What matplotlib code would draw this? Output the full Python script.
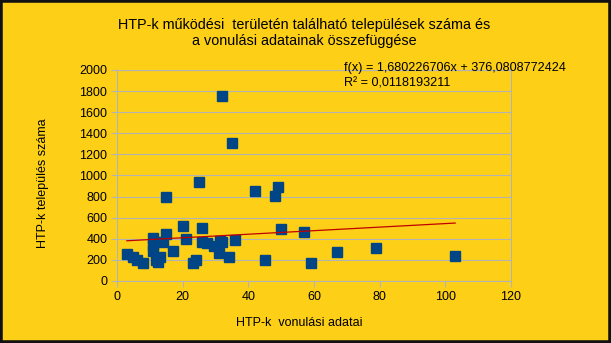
import matplotlib
matplotlib.use("Agg")
import matplotlib.pyplot as plt
import numpy as np
from matplotlib.patches import Rectangle

# HTP-k vonulási adatai (x) és a települések száma (y)
vonulas = [3, 5, 6, 8, 11, 11, 11, 12, 12.5, 13, 14, 15, 15, 17, 20, 21, 23, 24,
           25, 26, 26, 27.5, 29.5, 31, 31.5, 32, 32, 34, 35, 36, 42, 45, 48, 49,
           50, 57, 59, 67, 79, 103]
telepules = [260, 230, 200, 175, 410, 340, 280, 200, 180, 230, 370, 445, 800, 285,
             525, 400, 170, 200, 940, 500, 365, 360, 330, 265, 380, 1750, 370, 225,
             1310, 385, 855, 195, 810, 890, 490, 465, 170, 275, 315, 235]

slope = 1.680226706
intercept = 376.0808772424
r2 = 0.0118193211

x_ticks = [0, 20, 40, 60, 80, 100, 120]
y_ticks = [0, 200, 400, 600, 800, 1000, 1200, 1400, 1600, 1800, 2000]

BG = "#fdd017"
GRID = "#b3b3b3"

plt.rcParams["font.family"] = ["Liberation Sans", "DejaVu Sans"]

fig = plt.figure(figsize=(6.11, 3.43), dpi=100, facecolor=BG)
ax = fig.add_axes([0.1915, 0.1808, 0.6448, 0.6152])
ax.set_facecolor(BG)

ax.set_xlim(0, 120)
ax.set_ylim(0, 2000)
ax.set_xticks(x_ticks)
ax.set_yticks(y_ticks)
ax.tick_params(labelsize=9, colors=GRID, labelcolor="black", length=4, width=0.8, pad=3)
ax.grid(True, axis="y", color=GRID, linewidth=0.8, zorder=0)
for sp in ax.spines.values():
    sp.set_color(GRID)
    sp.set_linewidth(0.8)

ax.plot(vonulas, telepules, "s", color="#004586", markersize=7.8, zorder=3)

xs = np.array([min(vonulas), max(vonulas)])
ax.plot(xs, slope * xs + intercept, color="#c00000", linewidth=0.9, zorder=4)

eq = f"f(x) = {slope:.9f}x + {intercept:.10f}".replace(".", ",")
fig.text(344 / 611, 1 - 62 / 343, eq, fontsize=9.1, va="top", ha="left")
fig.text(344 / 611, 1 - 78 / 343, f"R² = {r2:.10f}".replace(".", ","), fontsize=9.1,
         va="top", ha="left")

fig.text(304 / 611, 1 - 18 / 343,
         "HTP-k működési  területén található települések száma és\n"
         "a vonulási adatainak összefüggése",
         fontsize=10.4, ha="center", va="top", linespacing=1.15)
fig.text(299 / 611, 1 - 323 / 343, "HTP-k  vonulási adatai", fontsize=9,
         ha="center", va="center")
fig.text(43 / 611, 1 - 183 / 343, "HTP-k település száma", fontsize=9,
         ha="center", va="center", rotation=90)

# keret
fig.patches.append(Rectangle((0, 0), 1, 1, transform=fig.transFigure, fill=False,
                             edgecolor="#111111", linewidth=4))

fig.savefig("out.png", dpi=100, facecolor=BG)
